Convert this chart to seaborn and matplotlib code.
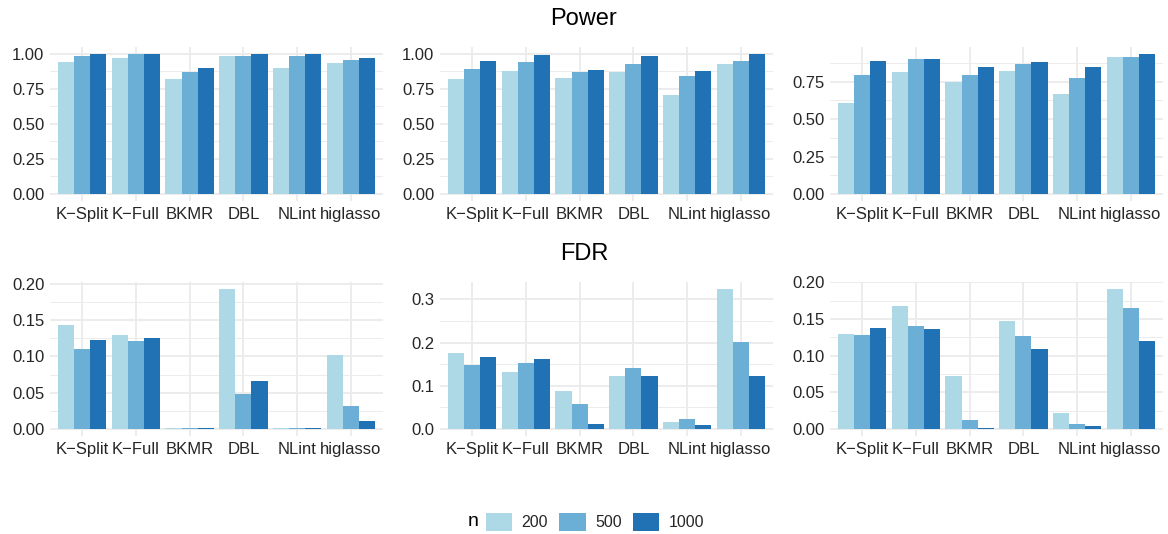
import matplotlib
matplotlib.use("Agg")
import matplotlib.pyplot as plt
from matplotlib.patches import Patch
from matplotlib.ticker import MultipleLocator, FormatStrFormatter, AutoMinorLocator
import seaborn as sns
import pandas as pd

# data
methods = ['K\u2212Split', 'K\u2212Full', 'BKMR', 'DBL', 'NLint', 'higlasso']
n_levels = ['200', '500', '1000']
colors = ['#ADD8E6', '#6BAED6', '#2171B5']

# Power, three settings (rows: n = 200, 500, 1000)
power_1 = [[0.943, 0.971, 0.822, 0.986, 0.900, 0.936],
           [0.986, 1.000, 0.872, 0.986, 0.986, 0.957],
           [1.000, 1.000, 0.900, 1.000, 1.000, 0.971]]
power_2 = [[0.822, 0.879, 0.829, 0.872, 0.708, 0.929],
           [0.893, 0.943, 0.872, 0.929, 0.843, 0.950],
           [0.950, 0.993, 0.886, 0.986, 0.879, 1.000]]
power_3 = [[0.608, 0.814, 0.748, 0.821, 0.668, 0.914],
           [0.794, 0.901, 0.794, 0.868, 0.774, 0.914],
           [0.888, 0.901, 0.848, 0.881, 0.848, 0.934]]

# FDR, three settings
fdr_1 = [[0.1436, 0.130, 0.0008, 0.193, 0.0008, 0.1023],
         [0.1106, 0.1216, 0.0008, 0.0486, 0.0008, 0.0321],
         [0.123, 0.1257, 0.0008, 0.0665, 0.0008, 0.0115]]
fdr_2 = [[0.176, 0.132, 0.0885, 0.123, 0.0169, 0.324],
         [0.148, 0.153, 0.0585, 0.1415, 0.0238, 0.2015],
         [0.167, 0.162, 0.0123, 0.123, 0.010, 0.123]]
fdr_3 = [[0.130, 0.168, 0.0727, 0.1477, 0.0223, 0.191],
         [0.1286, 0.141, 0.0127, 0.127, 0.0073, 0.1655],
         [0.138, 0.137, 0.0018, 0.1095, 0.0045, 0.1205]]

panels = [power_1, power_2, power_3, fdr_1, fdr_2, fdr_3]
tick_steps = [0.25, 0.25, 0.25, 0.05, 0.1, 0.05]
tick_fmt = ['%.2f', '%.2f', '%.2f', '%.2f', '%.1f', '%.2f']


def to_long(vals):
  rows = []
  for i, n in enumerate(n_levels):
    for j, m in enumerate(methods):
      rows.append({'method': m, 'n': n, 'value': vals[i][j]})
  return pd.DataFrame(rows)


sns.set_theme(style='white')
plt.rcParams['font.family'] = ['Liberation Sans', 'DejaVu Sans']

fig = plt.figure(figsize=(11.68, 5.34), dpi=100)
W, H = 1168, 534
lefts = [50, 440, 830]
tops = [47, 282]
pw, ph = 333, 154

grid_col = '#EBEBEB'
for k, vals in enumerate(panels):
  r, c = divmod(k, 3)
  ax = fig.add_axes([lefts[c] / W, 1 - (tops[r] + ph) / H, pw / W, ph / H])
  df = to_long(vals)
  sns.barplot(data=df, x='method', y='value', hue='n', order=methods,
              hue_order=n_levels, palette=colors, width=0.9, gap=0,
              saturation=1, linewidth=0, legend=False, ax=ax, zorder=2)
  ymax = max(max(v) for v in vals)
  ax.set_ylim(-0.05 * ymax, 1.05 * ymax)
  ax.set_xlim(-0.6, len(methods) - 0.4)
  ax.yaxis.set_major_locator(MultipleLocator(tick_steps[k]))
  ax.yaxis.set_minor_locator(AutoMinorLocator(2))
  ax.yaxis.set_major_formatter(FormatStrFormatter(tick_fmt[k]))
  ax.set_axisbelow(True)
  ax.grid(True, which='major', axis='both', color=grid_col, linewidth=1.3)
  ax.grid(True, which='minor', axis='y', color=grid_col, linewidth=0.65)
  ax.set_xlabel('')
  ax.set_ylabel('')
  for s in ax.spines.values():
    s.set_visible(False)
  ax.tick_params(axis='both', which='both', length=0, labelsize=12,
                 labelcolor='#262626')
  ax.tick_params(axis='y', pad=4)
  ax.tick_params(axis='x', pad=4)

fig.text(0.5, 1 - 19 / H, 'Power', ha='center', va='center', fontsize=17,
         color='black')
fig.text(0.5, 1 - 254 / H, 'FDR', ha='center', va='center', fontsize=17,
         color='black')

# legend
handles = [Patch(facecolor=col, edgecolor='none') for col in colors]
leg = fig.legend(handles, n_levels, loc='center',
                 bbox_to_anchor=(595 / W, 12 / H), ncol=3, frameon=False,
                 fontsize=11.5, handlelength=1.65, handleheight=1.45,
                 handletextpad=0.6, columnspacing=0.7)
for t in leg.get_texts():
  t.set_color('#262626')
fig.text(473 / W, 12 / H, 'n', ha='center', va='center', fontsize=14,
         color='black')

fig.savefig('out.png', dpi=100)
plt.close()
